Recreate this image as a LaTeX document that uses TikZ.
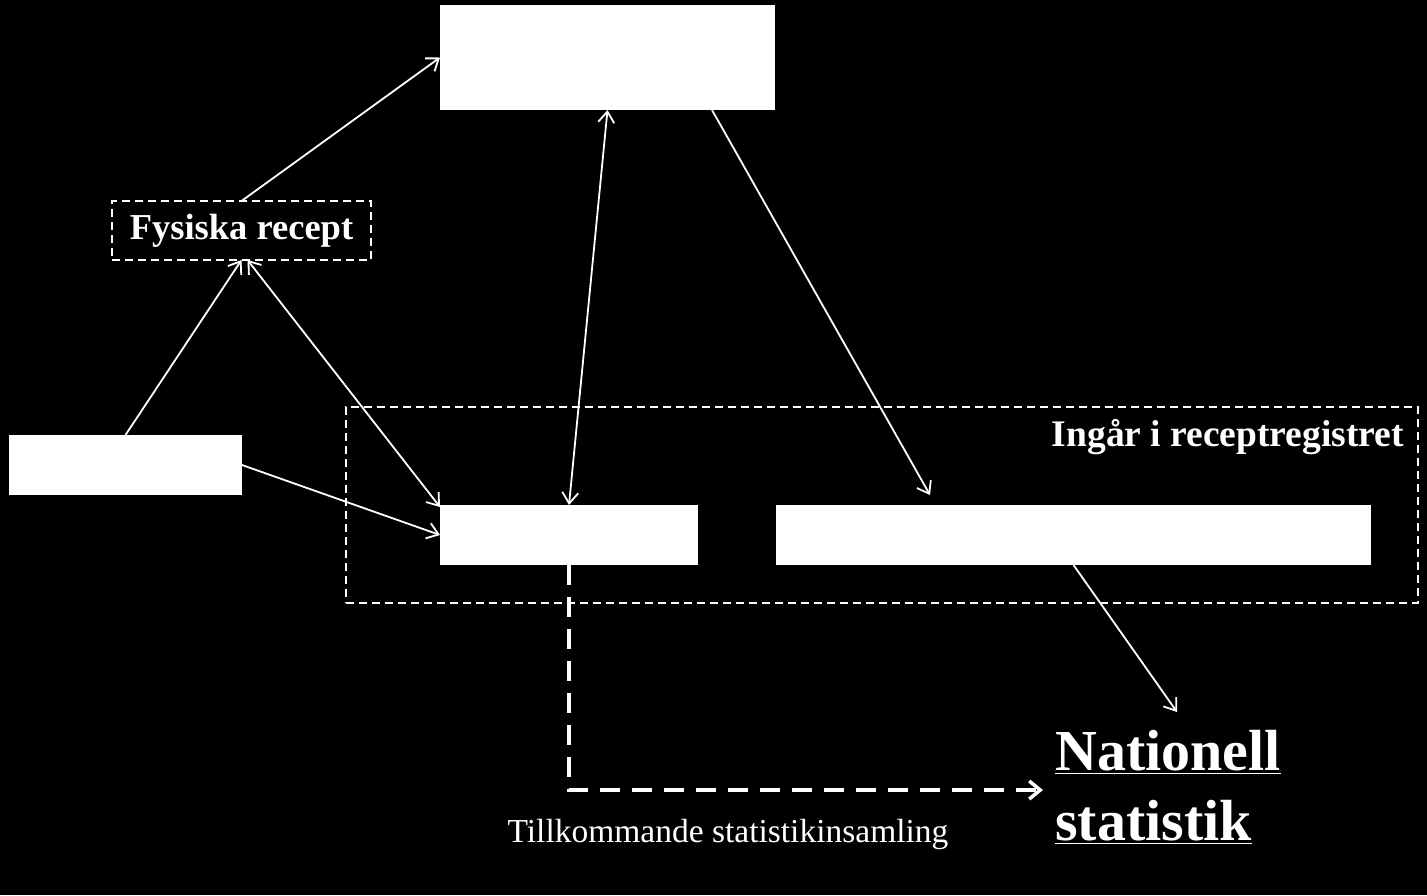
\documentclass[tikz,border=0pt]{standalone}
\usepackage{fontspec}
\setmainfont{Liberation Serif}
\usetikzlibrary{arrows.meta}
\begin{document}
\begin{tikzpicture}[x=1pt,y=-1pt,
  wbox/.style={fill=white,draw=none,inner sep=0,outer sep=0},
  conn/.style={draw=white,line width=1.8,-{Straight Barb[length=11,width=16,line width=1.8]}},
  dconn/.style={draw=white,line width=1.8,{Straight Barb[length=11,width=16,line width=1.8]}-{Straight Barb[length=11,width=16,line width=1.8]}},
  dashbox/.style={draw=white,line width=1.6,dash pattern=on 8 off 5,inner sep=0,outer sep=0},
  lbl/.style={text=white,inner sep=0}]
\fill[black] (0,0) rectangle (1427,895);
\useasboundingbox (0,0) rectangle (1427,895);
% container
\node[dashbox,minimum width=1072,minimum height=196] (reg) at (882,505) {};
\node[lbl,anchor=east,font=\fontsize{37.5}{42}\selectfont\bfseries] (reglbl) at (1404,437) {Ingår i receptregistret};
% boxes
\node[wbox,minimum width=335,minimum height=105] (top) at (607.5,57.5) {};
\node[wbox,minimum width=233,minimum height=60] (left) at (125.5,465) {};
\node[wbox,minimum width=258,minimum height=60] (mid) at (569,535) {};
\node[wbox,minimum width=595,minimum height=60] (right) at (1073.5,535) {};
\node[dashbox,minimum width=259,minimum height=59,text=white,font=\fontsize{36.5}{42}\selectfont\bfseries] (fys) at (241.5,230.5) {Fysiska recept};
\node[lbl,anchor=west,align=left,font=\fontsize{58}{70}\selectfont\bfseries] (nat) at (1055,787) {\underline{Nationell}\\\underline{statistik}};
\node[lbl,font=\fontsize{33.5}{38}\selectfont] (till) at (728,834) {Tillkommande statistikinsamling};
% helper coordinates
\coordinate (topout) at (712,110);
\coordinate (rightin) at (930,495);
\coordinate (natin) at (1177,712);
% connectors
\draw[conn] (fys.north) -- (top.west);
\draw[conn] (left.north) -- (fys.south);
\draw[dconn] ([xshift=6]fys.south) -- ([yshift=-2]mid.north west);
\draw[conn] (left.east) -- (mid.west);
\draw[dconn] (top.south) -- (mid.north);
\draw[conn] (topout) -- (rightin);
\draw[conn] (right.south) -- (natin);
\draw[draw=white,line width=3.5,dash pattern=on 20 off 12,-{Straight Barb[length=11,width=18,line width=3.5]}] (mid.south) |- ([xshift=-12,yshift=-3]nat.west);
\end{tikzpicture}
\end{document}
